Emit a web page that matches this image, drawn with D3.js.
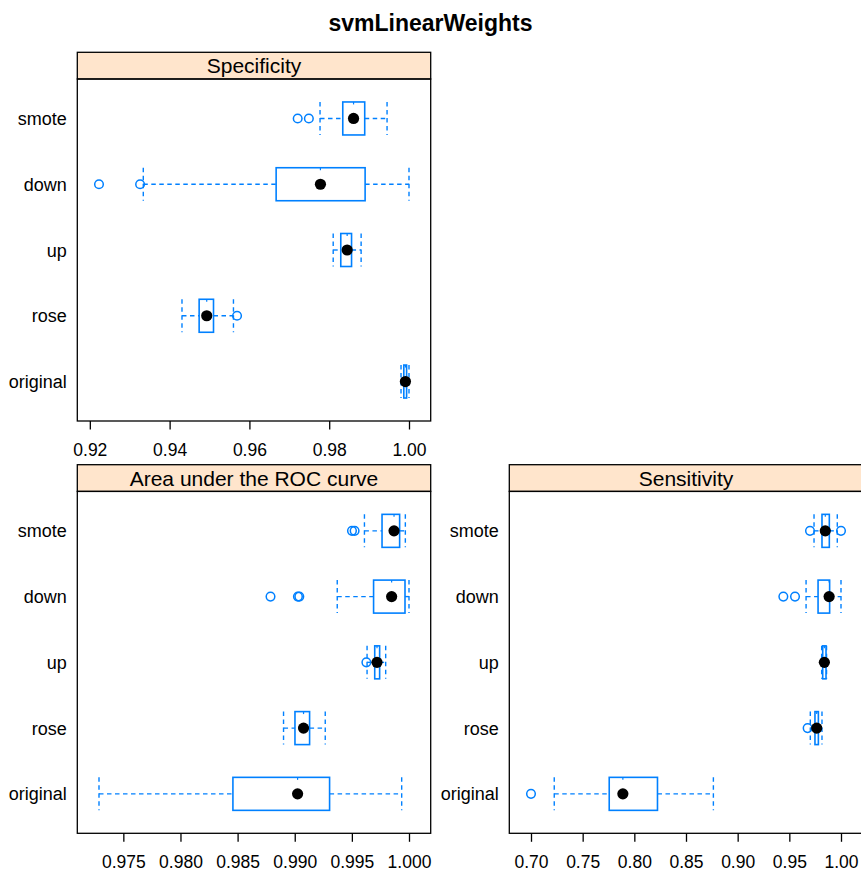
<!DOCTYPE html>
<html>
<head>
<meta charset="utf-8">
<script src="https://cdn.jsdelivr.net/npm/d3@7"></script>
<style>
  body { margin: 0; background: #fff; }
  text { font-family: "Liberation Sans", Arial, Helvetica, sans-serif; fill: #000; }
</style>
</head>
<body>
<div id="chart-area"></div>
<script>
// ---------------------------//
//            DATA            //
// ---------------------------//
const categories = ["smote", "down", "up", "rose", "original"]

// [whisker low, q1, median, q3, whisker high]
const specStats = [
    [0.9777, 0.9834, 0.9861, 0.9889, 0.9945],
    [0.9334, 0.9667, 0.9778, 0.9890, 1.0000],
    [0.9810, 0.9829, 0.9845, 0.9856, 0.9880],
    [0.9431, 0.9474, 0.9493, 0.9510, 0.9560],
    [0.9980, 0.9987, 0.9991, 0.9994, 1.0000]
]
const specOutliers = [[0.9721, 0.9749], [0.9223, 0.9326], [], [0.9569], []]
const specTicks = [0.92, 0.94, 0.96, 0.98, 1.00]

const rocStats = [
    [0.99610, 0.99764, 0.99869, 0.99918, 0.99968],
    [0.99372, 0.99690, 0.99848, 0.99965, 1.00000],
    [0.99633, 0.99700, 0.99720, 0.99743, 0.99796],
    [0.98902, 0.99002, 0.99077, 0.99130, 0.99267],
    [0.97287, 0.98459, 0.99025, 0.99305, 0.99936]
]
const rocOutliers = [[0.99501, 0.99524], [0.98788, 0.99028, 0.99040], [0.99627], [], []]
const rocTicks = [0.975, 0.980, 0.985, 0.990, 0.995, 1.000]

const sensStats = [
    [0.9739, 0.9816, 0.9848, 0.9887, 0.9964],
    [0.9662, 0.9778, 0.9885, 0.9890, 1.0000],
    [0.9813, 0.9823, 0.9839, 0.9855, 0.9860],
    [0.9703, 0.9748, 0.9765, 0.9781, 0.9816],
    [0.7225, 0.7757, 0.7889, 0.8224, 0.8765]
]
const sensOutliers = [[0.9700, 1.0000], [0.9442, 0.9555], [], [0.9677], [0.7000]]
const sensTicks = [0.70, 0.75, 0.80, 0.85, 0.90, 0.95, 1.00]

// ---------------------------//
//           LAYOUT           //
// ---------------------------//
const W = 861, H = 871
const PANEL_W = 353.4, STRIP_H = 26.7
const BLUE = "#0080ff"

const svg = d3.select("#chart-area").append("svg")
    .attr("width", W)
    .attr("height", H)

svg.append("text")
    .attr("x", 430.5)
    .attr("y", 30.5)
    .attr("text-anchor", "middle")
    .style("font-size", "23px")
    .style("font-weight", "bold")
    .text("svmLinearWeights")

const panels = [
    {title: "Specificity", stats: specStats, outliers: specOutliers, ticks: specTicks, fmt: ".2f",
     left: 77.3, top: 52.3, bottom: 421},
    {title: "Area under the ROC curve", stats: rocStats, outliers: rocOutliers, ticks: rocTicks, fmt: ".3f",
     left: 77.3, top: 464.7, bottom: 833.3},
    {title: "Sensitivity", stats: sensStats, outliers: sensOutliers, ticks: sensTicks, fmt: ".2f",
     left: 509.3, top: 464.7, bottom: 833.3}
]

panels.forEach(p => {
    const g = svg.append("g")
    const right = p.left + PANEL_W
    const innerTop = p.top + STRIP_H

    // x domain = data range padded 7% on each side (lattice style)
    const all = p.stats.flat().concat(p.outliers.flat())
    const ext = d3.extent(all)
    const pad = (ext[1] - ext[0]) * 0.07
    const x = d3.scaleLinear().domain([ext[0] - pad, ext[1] + pad]).range([p.left, right])
    const y = d3.scalePoint().domain(categories).range([innerTop, p.bottom]).padding(0.6)
    const hh = 16.5

    // strip
    g.append("rect")
        .attr("x", p.left).attr("y", p.top)
        .attr("width", PANEL_W).attr("height", STRIP_H)
        .attr("fill", "#ffe5cc").attr("stroke", "#000").attr("stroke-width", 1.3)
    g.append("text")
        .attr("x", p.left + PANEL_W / 2).attr("y", p.top + STRIP_H / 2 + 7.5)
        .attr("text-anchor", "middle")
        .style("font-size", "21px")
        .text(p.title)

    // panel box
    g.append("rect")
        .attr("x", p.left).attr("y", innerTop)
        .attr("width", PANEL_W).attr("height", p.bottom - innerTop)
        .attr("fill", "none").attr("stroke", "#000").attr("stroke-width", 1.3)

    // x axis
    const axis = g.append("g")
        .attr("transform", `translate(0,${p.bottom})`)
        .call(d3.axisBottom(x).tickValues(p.ticks).tickFormat(d3.format(p.fmt)).tickSize(8.5).tickPadding(14))
    axis.select(".domain").remove()
    axis.selectAll(".tick line").attr("stroke", "#000").attr("stroke-width", 1.3)
    axis.selectAll(".tick text").style("font-size", "17.5px").attr("font-family", null)

    // category labels
    g.selectAll(".cat")
        .data(categories)
        .enter()
        .append("text")
        .attr("x", p.left - 10.5)
        .attr("y", d => y(d) + 6.5)
        .attr("text-anchor", "end")
        .style("font-size", "18px")
        .text(d => d)

    const rows = g.selectAll(".row")
        .data(p.stats.map((s, i) => ({cat: categories[i], s: s, out: p.outliers[i]})))
        .enter()
        .append("g")

    // whisker lines
    rows.append("line")
        .attr("x1", d => x(d.s[0])).attr("x2", d => x(d.s[1]))
        .attr("y1", d => y(d.cat)).attr("y2", d => y(d.cat))
    rows.append("line")
        .attr("x1", d => x(d.s[3])).attr("x2", d => x(d.s[4]))
        .attr("y1", d => y(d.cat)).attr("y2", d => y(d.cat))
    rows.append("line")
        .attr("x1", d => x(d.s[0])).attr("x2", d => x(d.s[0]))
        .attr("y1", d => y(d.cat) - hh).attr("y2", d => y(d.cat) + hh)
    rows.append("line")
        .attr("x1", d => x(d.s[4])).attr("x2", d => x(d.s[4]))
        .attr("y1", d => y(d.cat) - hh).attr("y2", d => y(d.cat) + hh)
    rows.selectAll("line")
        .attr("stroke", BLUE).attr("stroke-width", 1.4).attr("stroke-dasharray", "4.5,3.5")

    // box
    rows.append("rect")
        .attr("x", d => x(d.s[1]))
        .attr("y", d => y(d.cat) - hh)
        .attr("width", d => x(d.s[3]) - x(d.s[1]))
        .attr("height", hh * 2)
        .attr("fill", "#fff").attr("stroke", BLUE).attr("stroke-width", 1.6)
    rows.append("line")
        .attr("x1", d => x(d.s[2])).attr("x2", d => x(d.s[2]))
        .attr("y1", d => y(d.cat) - hh).attr("y2", d => y(d.cat) - hh + 2.5)
        .attr("stroke", BLUE).attr("stroke-width", 1.2)

    // outliers
    rows.selectAll(".out")
        .data(d => d.out.map(v => ({v: v, cat: d.cat})))
        .enter()
        .append("circle")
        .attr("cx", d => x(d.v)).attr("cy", d => y(d.cat))
        .attr("r", 4.3)
        .attr("fill", "none").attr("stroke", BLUE).attr("stroke-width", 1.5)

    // median dot
    rows.append("circle")
        .attr("cx", d => x(d.s[2])).attr("cy", d => y(d.cat))
        .attr("r", 5.6)
        .attr("fill", "#000")
})
</script>
</body>
</html>
